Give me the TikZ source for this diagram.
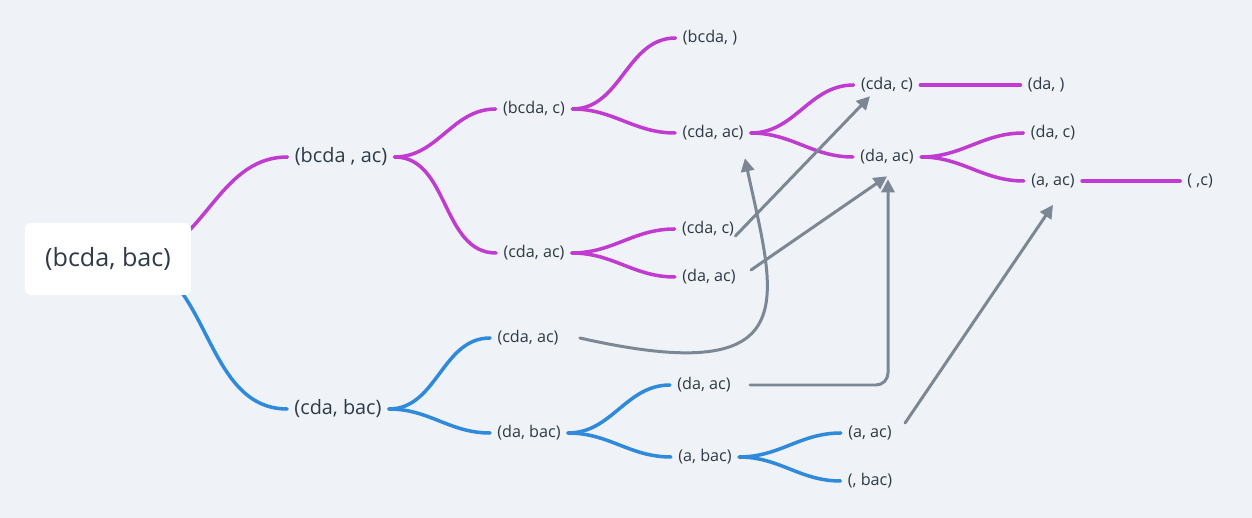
\documentclass[tikz,border=0pt]{standalone}
\usepackage{fontspec}
\setmainfont{Open Sans}
\usetikzlibrary{positioning,arrows.meta,backgrounds}
\definecolor{paper}{HTML}{EFF2F6}
\definecolor{ink}{HTML}{2E3A48}
\definecolor{plum}{HTML}{C03BD0}
\definecolor{sky}{HTML}{2F8ADB}
\definecolor{slate}{HTML}{7B8795}
\tikzstyle{leaf} = [text=ink, font=\fontsize{9.2}{11}\selectfont, inner xsep=4pt, inner ysep=2pt]
\tikzstyle{sub} = [leaf, font=\fontsize{11.3}{13}\selectfont]
\tikzstyle{rootbox} = [fill=white, rounded corners=1.2mm, text=ink, font=\fontsize{14.3}{17}\selectfont, minimum width=3.32cm, minimum height=1.44cm]
\tikzstyle{pk} = [draw=plum, line width=2pt, line cap=round]
\tikzstyle{bl} = [draw=sky, line width=2pt, line cap=round]
\tikzstyle{link} = [draw=slate, line width=1.7pt, line cap=round, -{Triangle[length=7.5pt,width=7.5pt]}]
\tikzstyle{fan} = [out=0, in=180]

\begin{document}
\begin{tikzpicture}[x=0.2mm, y=-0.2mm]
			\useasboundingbox (0,0) rectangle (1252,518);
			\node[rootbox] (r) at (108,259) {(bcda, bac)};
			\node[sub] (a) at (341,157) {(bcda , ac)};
			\node[sub] (b) at (338,409) {(cda, bac)};
			\node[leaf] (a1) at (534,109) {(bcda, c)};
			\node[leaf] (a2) at (534,253) {(cda, ac)};
			\node[leaf] (a11) at (710,38) {(bcda, )};
			\node[leaf] (a12) at (713,133) {(cda, ac)};
			\node[leaf] (a21) at (708,229) {(cda, c)};
			\node[leaf] (a22) at (709,277) {(da, ac)};
			\node[leaf] (a121) at (887,85) {(cda, c)};
			\node[leaf] (a122) at (887,157) {(da, ac)};
			\node[leaf, right = 2cm of a121] (a1211) {(da, )};
			\node[leaf] (a1221) at (1053,133) {(da, c)};
			\node[leaf] (a1222) at (1053,181) {(a, ac)};
			\node[leaf, right = 1.96cm of a1222] (a12221) {( ,c)};
			\node[leaf] (b1) at (528,338) {(cda, ac)};
			\node[leaf] (b2) at (529,433) {(da, bac)};
			\node[leaf] (b21) at (704,385) {(da, ac)};
			\node[leaf] (b22) at (705,457) {(a, bac)};
			\node[leaf] (b221) at (870,433) {(a, ac)};
			\node[leaf] (b222) at (870,481) {(, bac)};
			\begin{pgfonlayer}{background}
				\fill[paper] (0,0) rectangle (1252,518);
				\draw[pk] ([shift={(22,0)}]r.center) to[fan] (a);
				\draw[bl] ([shift={(16,0)}]r.center) to[fan] (b);
			\end{pgfonlayer}
			\draw[pk] (a) edge[fan] (a1) edge[fan] (a2);
			\draw[pk] (a1) edge[fan] (a11) edge[fan] (a12);
			\draw[pk] (a2) edge[fan] (a21) edge[fan] (a22);
			\draw[pk] (a12) edge[fan] (a121) edge[fan] (a122);
			\draw[pk] (a121) edge (a1211);
			\draw[pk] (a122) edge[fan] (a1221) edge[fan] (a1222);
			\draw[pk] (a1222) edge (a12221);
			\draw[bl] (b) edge[fan] (b1) edge[fan] (b2);
			\draw[bl] (b2) edge[fan] (b21) edge[fan] (b22);
			\draw[bl] (b22) edge[fan] (b221) edge[fan] (b222);
			\draw[link] ([shift={(-6,7)}]a21.east) -- ([shift={(-17,0)}]a121.south);
			\draw[link] ([shift={(8,-7)}]a22.east) -- ([shift={(0,8)}]a122.south);
			\draw[link] ([shift={(14,0)}]b1.east) .. controls +(230,52) and +(30,140) .. ([shift={(-6,14)}]a12.south east);
			\draw[link, rounded corners=2.4mm] ([shift={(12,0)}]b21.east) -| ([shift={(1,11)}]a122.south);
			\draw[link] ([shift={(6,-10)}]b221.east) -- ([shift={(0,13)}]a1222.south);
		\end{tikzpicture}
\end{document}
